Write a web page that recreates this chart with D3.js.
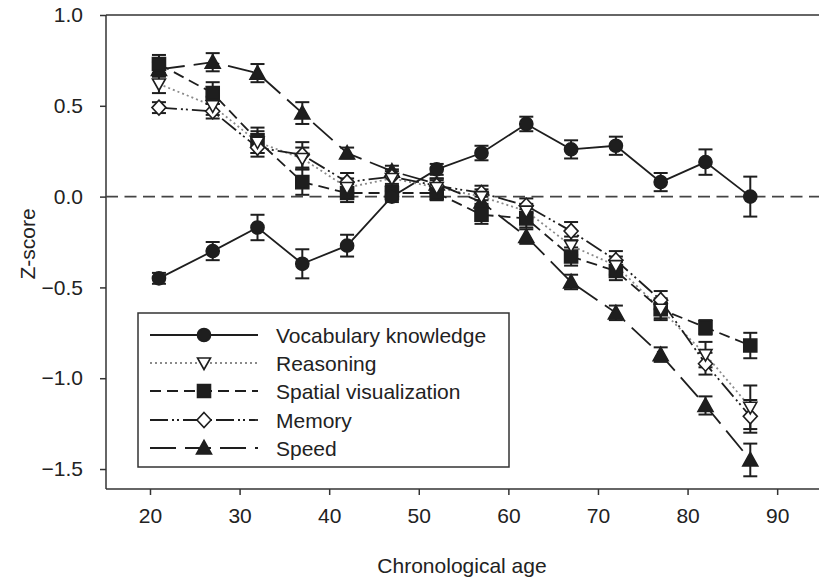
<!DOCTYPE html>
<html>
<head>
<meta charset="utf-8">
<script src="https://cdn.jsdelivr.net/npm/d3@7"></script>
<style>
  html, body { margin: 0; padding: 0; background: #fff; }
  svg { display: block; font-family: "Liberation Sans", Arial, Helvetica, sans-serif; }
</style>
</head>
<body>
<svg id="chart" width="819" height="578"></svg>
<script>
// ---------- data ----------
const ages = [21, 27, 32, 37, 42, 47, 52, 57, 62, 67, 72, 77, 82, 87];
const seriesNames = ["Vocabulary knowledge", "Reasoning", "Spatial visualization", "Memory", "Speed"];
const vocabulary = [-0.45, -0.30, -0.17, -0.37, -0.27, 0.00, 0.15, 0.24, 0.40, 0.26, 0.28, 0.08, 0.19, 0.00];
const vocabularyErr = [0.03, 0.05, 0.07, 0.08, 0.06, 0.03, 0.03, 0.04, 0.04, 0.05, 0.05, 0.05, 0.07, 0.11];
const reasoning = [0.62, 0.50, 0.30, 0.21, 0.05, 0.10, 0.05, 0.00, -0.08, -0.27, -0.38, -0.62, -0.87, -1.16];
const reasoningErr = [0.05, 0.05, 0.06, 0.06, 0.05, 0.04, 0.04, 0.04, 0.04, 0.05, 0.05, 0.06, 0.07, 0.12];
const spatial = [0.73, 0.57, 0.31, 0.08, 0.02, 0.02, 0.02, -0.10, -0.12, -0.33, -0.41, -0.62, -0.72, -0.82];
const spatialErr = [0.05, 0.06, 0.07, 0.07, 0.05, 0.04, 0.04, 0.05, 0.05, 0.05, 0.05, 0.05, 0.04, 0.07];
const memory = [0.49, 0.47, 0.27, 0.23, 0.08, 0.11, 0.06, 0.02, -0.05, -0.19, -0.35, -0.57, -0.92, -1.21];
const memoryErr = [0.03, 0.04, 0.05, 0.07, 0.05, 0.04, 0.04, 0.04, 0.04, 0.05, 0.05, 0.05, 0.06, 0.09];
const speed = [0.70, 0.74, 0.68, 0.46, 0.24, 0.14, 0.07, -0.03, -0.22, -0.47, -0.64, -0.87, -1.15, -1.45];
const speedErr = [0.04, 0.05, 0.05, 0.06, 0.03, 0.03, 0.03, 0.03, 0.04, 0.04, 0.04, 0.04, 0.05, 0.09];
const xTicks = [20, 30, 40, 50, 60, 70, 80, 90];
const yTicks = [1.0, 0.5, 0.0, -0.5, -1.0, -1.5];
const xTitle = "Chronological age";
const yTitle = "Z-score";

// ---------- layout ----------
const svg = d3.select("#chart");
const pLeft = 106, pRight = 819, pTop = 15, pBottom = 489;
const x = d3.scaleLinear().domain([15.09, 94.67]).range([pLeft, pRight]);
const y = d3.scaleLinear().domain([-1.61, 1.0]).range([pBottom, pTop]);
const ink = "#1e1e1e";
const fontSize = 21;

const styles = [
  { vals: vocabulary, err: vocabularyErr, dash: null, color: ink, width: 1.8, marker: "circle" },
  { vals: reasoning, err: reasoningErr, dash: "2,3", color: "#8a8a8a", width: 1.8, marker: "tdown" },
  { vals: spatial, err: spatialErr, dash: "11,6", color: ink, width: 1.8, marker: "square" },
  { vals: memory, err: memoryErr, dash: "18,4,2,3,2,4", color: ink, width: 1.8, marker: "diamond" },
  { vals: speed, err: speedErr, dash: "26,9", color: ink, width: 1.8, marker: "tup" }
];

function markerPath(type) {
  switch (type) {
    case "circle": return d3.symbol(d3.symbolCircle, 135)();
    case "square": return "M-6.5,-6.5H6.5V6.5H-6.5Z";
    case "tup": return "M0,-7.5L7.5,6L-7.5,6Z";
    case "tdown": return "M-6.5,-5L6.5,-5L0,6.5Z";
    case "diamond": return "M0,-7.5L7,0L0,7.5L-7,0Z";
  }
}
function markerFill(type) {
  return (type === "tdown" || type === "diamond") ? "#fff" : ink;
}

// ---------- axes frame ----------
const g = svg.append("g");
g.append("line").attr("x1", pLeft).attr("x2", pRight).attr("y1", pTop).attr("y2", pTop)
  .attr("stroke", "#333").attr("stroke-width", 1.5);

const xAxis = d3.axisBottom(x).tickValues(xTicks).tickSize(6).tickSizeOuter(0).tickPadding(13);
const yAxis = d3.axisLeft(y).tickValues(yTicks).tickSize(6).tickSizeOuter(0).tickPadding(17)
  .tickFormat(d => d3.format(".1f")(d).replace("-", "\u2212"));

const gx = g.append("g").attr("transform", `translate(0,${pBottom})`).call(xAxis);
const gy = g.append("g").attr("transform", `translate(${pLeft},0)`).call(yAxis);
[gx, gy].forEach(a => {
  a.select(".domain").attr("stroke", "#333").attr("stroke-width", 1.5);
  a.selectAll(".tick line").attr("stroke", "#333").attr("stroke-width", 1.5);
  a.selectAll(".tick text").attr("fill", "#222").style("font-size", fontSize + "px")
    .style("font-family", '"Liberation Sans", Arial, sans-serif');
});
gx.select(".domain").attr("d", `M${pLeft},0H${pRight}`);
gy.select(".domain").attr("d", `M0,${pTop}V${pBottom}`);

// titles
g.append("text").attr("x", 462).attr("y", 573).attr("text-anchor", "middle")
  .attr("fill", "#222").style("font-size", fontSize + "px").text(xTitle);
g.append("text").attr("transform", "translate(35,244) rotate(-90)").attr("text-anchor", "middle")
  .attr("fill", "#222").style("font-size", fontSize + "px").text(yTitle);

// zero reference line
g.append("line").attr("x1", pLeft).attr("x2", pRight).attr("y1", y(0)).attr("y2", y(0))
  .attr("stroke", "#444").attr("stroke-width", 1.8).attr("stroke-dasharray", "12,6.5");

// ---------- series ----------
const line = d3.line().x(d => x(d[0])).y(d => y(d[1]));
const plot = g.append("g");
styles.forEach(s => {
  const pts = ages.map((a, i) => [a, s.vals[i]]);
  plot.append("path").attr("d", line(pts)).attr("fill", "none")
    .attr("stroke", s.color).attr("stroke-width", s.width)
    .attr("stroke-dasharray", s.dash);
});
const capW = 7;
styles.forEach(s => {
  const eg = plot.append("g").attr("stroke", ink).attr("stroke-width", 2).attr("fill", "none");
  ages.forEach((a, i) => {
    const cx = x(a), y1 = y(s.vals[i] + s.err[i]), y2 = y(s.vals[i] - s.err[i]);
    eg.append("line").attr("x1", cx).attr("x2", cx).attr("y1", y1).attr("y2", y2);
    eg.append("line").attr("x1", cx - capW).attr("x2", cx + capW).attr("y1", y1).attr("y2", y1);
    eg.append("line").attr("x1", cx - capW).attr("x2", cx + capW).attr("y1", y2).attr("y2", y2);
  });
});
[4, 2, 3, 1, 0].forEach(k => {
  const s = styles[k];
  plot.append("g").selectAll("path").data(ages).join("path")
    .attr("transform", (a, i) => `translate(${x(a)},${y(s.vals[i])})`)
    .attr("d", markerPath(s.marker)).attr("fill", markerFill(s.marker))
    .attr("stroke", ink).attr("stroke-width", 1.6);
});

// ---------- legend ----------
const lg = g.append("g");
lg.append("rect").attr("x", 138).attr("y", 313).attr("width", 371).attr("height", 154)
  .attr("fill", "#fff").attr("stroke", "#333").attr("stroke-width", 1.5);
const rowY = [335, 363, 391, 420, 448];
styles.forEach((s, k) => {
  const ry = rowY[k];
  lg.append("line").attr("x1", 150).attr("x2", 258).attr("y1", ry).attr("y2", ry)
    .attr("stroke", s.color).attr("stroke-width", s.width).attr("stroke-dasharray", s.dash);
  lg.append("path").attr("transform", `translate(204,${ry})`).attr("d", markerPath(s.marker))
    .attr("fill", markerFill(s.marker)).attr("stroke", ink).attr("stroke-width", 1.6);
  lg.append("text").attr("x", 276).attr("y", ry).attr("dy", "0.36em").attr("fill", "#222")
    .style("font-size", fontSize + "px").text(seriesNames[k]);
});
</script>
</body>
</html>
